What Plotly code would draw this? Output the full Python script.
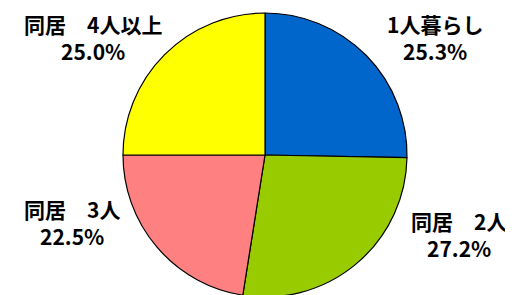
import plotly.graph_objects as go

categories = ["1人暮らし", "同居　2人", "同居　3人", "同居　4人以上"]
values = [25.3, 27.2, 22.5, 25.0]
colors = ["#0066CC", "#99CC00", "#FF8080", "#FFFF00"]

W, H = 513, 295
OFF = 8  # page body margin
cx, cy, r = 265 - OFF, 155 - OFF, 142

fig = go.Figure(go.Pie(
    labels=categories, values=values, sort=False, direction="clockwise", rotation=0,
    marker=dict(colors=colors, line=dict(color="black", width=1.2)),
    textinfo="none", hoverinfo="label+percent",
    domain=dict(x=[(cx - r) / W, (cx + r) / W], y=[(H - cy - r) / H, (H - cy + r) / H]),
    showlegend=False,
))

label_pos = [(435, 38), (459, 234), (72, 222), (93, 38)]
for name, v, (x, y) in zip(categories, values, label_pos):
    fig.add_annotation(
        x=(x - OFF) / W, y=1 - (y - OFF) / H, xref="paper", yref="paper",
        text=f"<b>{name}</b><br><b>{v:.1f}%</b>", showarrow=False,
        font=dict(family="Noto Sans CJK JP", size=21, color="black"),
        align="center", xanchor="center", yanchor="middle",
    )

fig.update_layout(width=W, height=H, margin=dict(l=0, r=0, t=0, b=0),
                  paper_bgcolor="white", plot_bgcolor="white")
fig.write_html("out.html")
